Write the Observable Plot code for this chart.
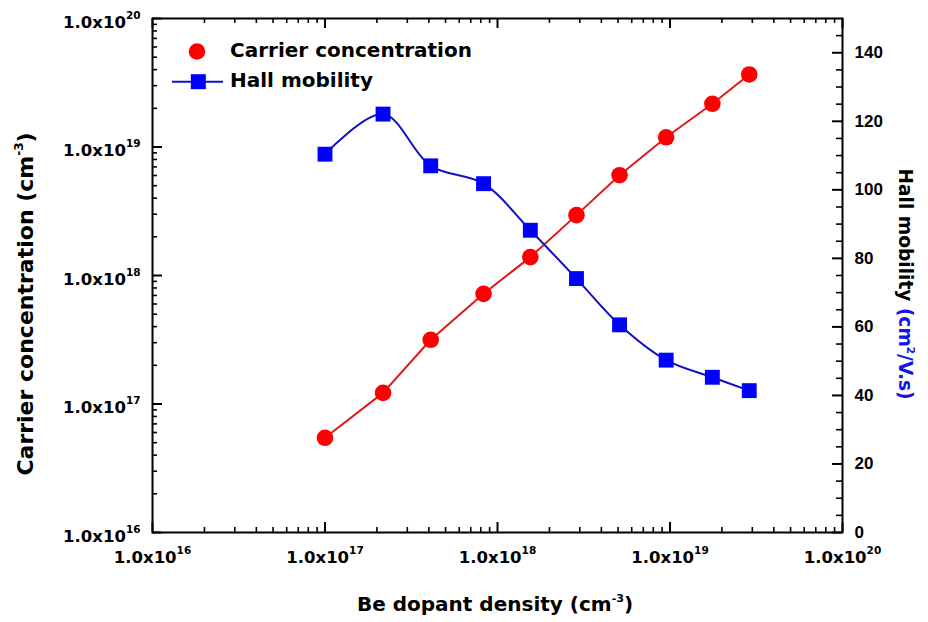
<!DOCTYPE html>
<html><head><meta charset="utf-8">
<script src="https://cdn.jsdelivr.net/npm/d3@7"></script>
<script src="https://cdn.jsdelivr.net/npm/@observablehq/plot@0.6"></script>
<style>
body{margin:0;background:#fff;}
#wrap{position:relative;width:928px;height:622px;}
#wrap svg{position:absolute;left:0;top:0;}
</style></head><body><div id="wrap"></div>
<script>
// ---- data ----
const dopant   = [1.0e17, 2.17e17, 4.1e17, 8.3e17, 1.55e18, 2.87e18, 5.1e18, 9.5e18, 1.76e19, 2.88e19];
const carrier  = [5.46e16, 1.22e17, 3.16e17, 7.2e17, 1.39e18, 2.95e18, 6.03e18, 1.19e19, 2.17e19, 3.67e19];
const mobility = [110.4, 122.1, 107.0, 101.8, 88.2, 74.1, 60.6, 50.3, 45.3, 41.4];
const decadeTicks = [1e16, 1e17, 1e18, 1e19, 1e20];
const mobilityTicks = [0, 20, 40, 60, 80, 100, 120, 140];
const mobilityMinor = [5,10,15,25,30,35,45,50,55,65,70,75,85,90,95,105,110,115,125,130,135,145];
const minorLog = [1e16, 1e17, 1e18, 1e19].flatMap(d => [2,3,4,5,6,7,8,9].map(m => m * d));

const W = 928, H = 622, mL = 152, mR = 86, mT = 18, mB = 90;
const innerW = W - mL - mR, innerH = H - mT - mB;

const carrierData = dopant.map((x, i) => ({x, y: carrier[i]}));
const mobilityData = dopant.map((x, i) => ({x, y: mobility[i]}));
const fmtPow = d => "1.0x10^" + Math.round(Math.log10(d));
const tickFont = {fontFamily: "DejaVu Sans", fontWeight: "bold", fontSize: 16.5, fill: "#000"};

const plot1 = Plot.plot({
  width: W, height: H, marginLeft: mL, marginRight: mR, marginTop: mT, marginBottom: mB,
  style: {background: "transparent", overflow: "visible"},
  x: {type: "log", domain: [1e16, 1e20]},
  y: {type: "log", domain: [1e16, 1e20]},
  marks: [
    Plot.tickY(minorLog, {y: d => d, insetRight: innerW - 5, strokeWidth: 1.6}),
    Plot.tickY(decadeTicks, {y: d => d, insetRight: innerW - 10, strokeWidth: 2}),
    Plot.tickX(minorLog, {x: d => d, insetTop: innerH - 5, strokeWidth: 1.6}),
    Plot.tickX(decadeTicks, {x: d => d, insetTop: innerH - 10, strokeWidth: 2}),
    Plot.tickX(minorLog, {x: d => d, insetBottom: innerH - 5, strokeWidth: 1.6}),
    Plot.tickX(decadeTicks, {x: d => d, insetBottom: innerH - 10, strokeWidth: 2}),
    Plot.axisX(decadeTicks, {anchor: "bottom", tickSize: 0, tickPadding: 19, tickFormat: fmtPow, label: null, ...tickFont}),
    Plot.axisY(decadeTicks, {anchor: "left", tickSize: 0, tickPadding: 12, dy: 4, tickFormat: fmtPow, label: null, ...tickFont}),
    Plot.line(carrierData, {x: "x", y: "y", stroke: "#e01818", strokeWidth: 2}),
    Plot.dot(carrierData, {x: "x", y: "y", r: 8.3, fill: "#ff0000", stroke: "none"}),
    Plot.frame({strokeWidth: 2, stroke: "#000"})
  ]
});

const plot2 = Plot.plot({
  width: W, height: H, marginLeft: mL, marginRight: mR, marginTop: mT, marginBottom: mB,
  style: {background: "transparent", overflow: "visible"},
  x: {type: "log", domain: [1e16, 1e20], axis: null},
  y: {type: "linear", domain: [0, 150]},
  marks: [
    Plot.tickY(mobilityMinor, {y: d => d, insetLeft: innerW - 6, strokeWidth: 1.6}),
    Plot.tickY(mobilityTicks, {y: d => d, insetLeft: innerW - 10, strokeWidth: 2}),
    Plot.axisY(mobilityTicks, {anchor: "right", tickSize: 0, tickPadding: 12, label: null,
      fontFamily: "Liberation Sans", fontWeight: "bold", fontSize: 17, fill: "#000"}),
    Plot.line(mobilityData, {x: "x", y: "y", stroke: "#1010c8", strokeWidth: 2, curve: "catmull-rom"}),
    Plot.dot(mobilityData, {x: "x", y: "y", symbol: "square", r: 8.4, fill: "#0000ff", stroke: "none"})
  ]
});

const wrap = document.getElementById("wrap");
wrap.appendChild(plot1);
wrap.appendChild(plot2);

// superscripts in tick labels
d3.select(plot1).selectAll("text").each(function() {
  const t = d3.select(this);
  const s = t.text();
  if (!s.includes("^")) return;
  const [a, b] = s.split("^");
  t.text(null);
  t.append("tspan").text(a);
  t.append("tspan").attr("dy", -9).attr("font-size", 10.5).text(b);
});

// titles and legend
const svg = d3.select(plot2);
const bold = {"font-family": "DejaVu Sans", "font-weight": "bold", "text-anchor": "start"};
function addText(g, attrs, parts) {
  const t = g.append("text");
  Object.entries({...bold, ...attrs}).forEach(([k, v]) => t.attr(k, v));
  parts.forEach(p => {
    const ts = t.append("tspan").text(p.t);
    if (p.fill) ts.attr("fill", p.fill);
    if (p.sup) ts.attr("dy", -p.sup).attr("font-size", p.size);
    if (p.down) ts.attr("dy", p.down);
  });
  return t;
}
// x title
addText(svg, {x: 495, y: 611, "text-anchor": "middle", "font-size": 20, fill: "#000"},
  [{t: "Be dopant density (cm"}, {t: "-3", sup: 9, size: 11}, {t: ")", down: 9}]);
// left title
addText(svg, {transform: "translate(33,304) rotate(-90)", "text-anchor": "middle", "font-size": 22, fill: "#000"},
  [{t: "Carrier concentration (cm"}, {t: "-3", sup: 10, size: 12}, {t: ")", down: 10}]);
// right title
addText(svg, {transform: "translate(899,284) rotate(90)", "text-anchor": "middle", "font-size": 18.6, fill: "#000"},
  [{t: "Hall mobility "}, {t: "(cm", fill: "#1414e6"}, {t: "2", sup: 8, size: 10.5, fill: "#1414e6"}, {t: "/V.s)", down: 8, fill: "#1414e6"}]);

// legend
const lg = svg.append("g");
lg.append("circle").attr("cx", 197).attr("cy", 51.5).attr("r", 8.3).attr("fill", "#ff0000");
addText(lg, {x: 230, y: 57.3, "font-size": 20, fill: "#000"}, [{t: "Carrier concentration"}]);
lg.append("line").attr("x1", 172).attr("x2", 223).attr("y1", 81.7).attr("y2", 81.7).attr("stroke", "#1010c8").attr("stroke-width", 2);
lg.append("rect").attr("x", 198.3 - 7.5).attr("y", 81.7 - 7.5).attr("width", 15).attr("height", 15).attr("fill", "#0000ff");
addText(lg, {x: 230, y: 86.7, "font-size": 20, fill: "#000"}, [{t: "Hall mobility"}]);
</script>
</body></html>
